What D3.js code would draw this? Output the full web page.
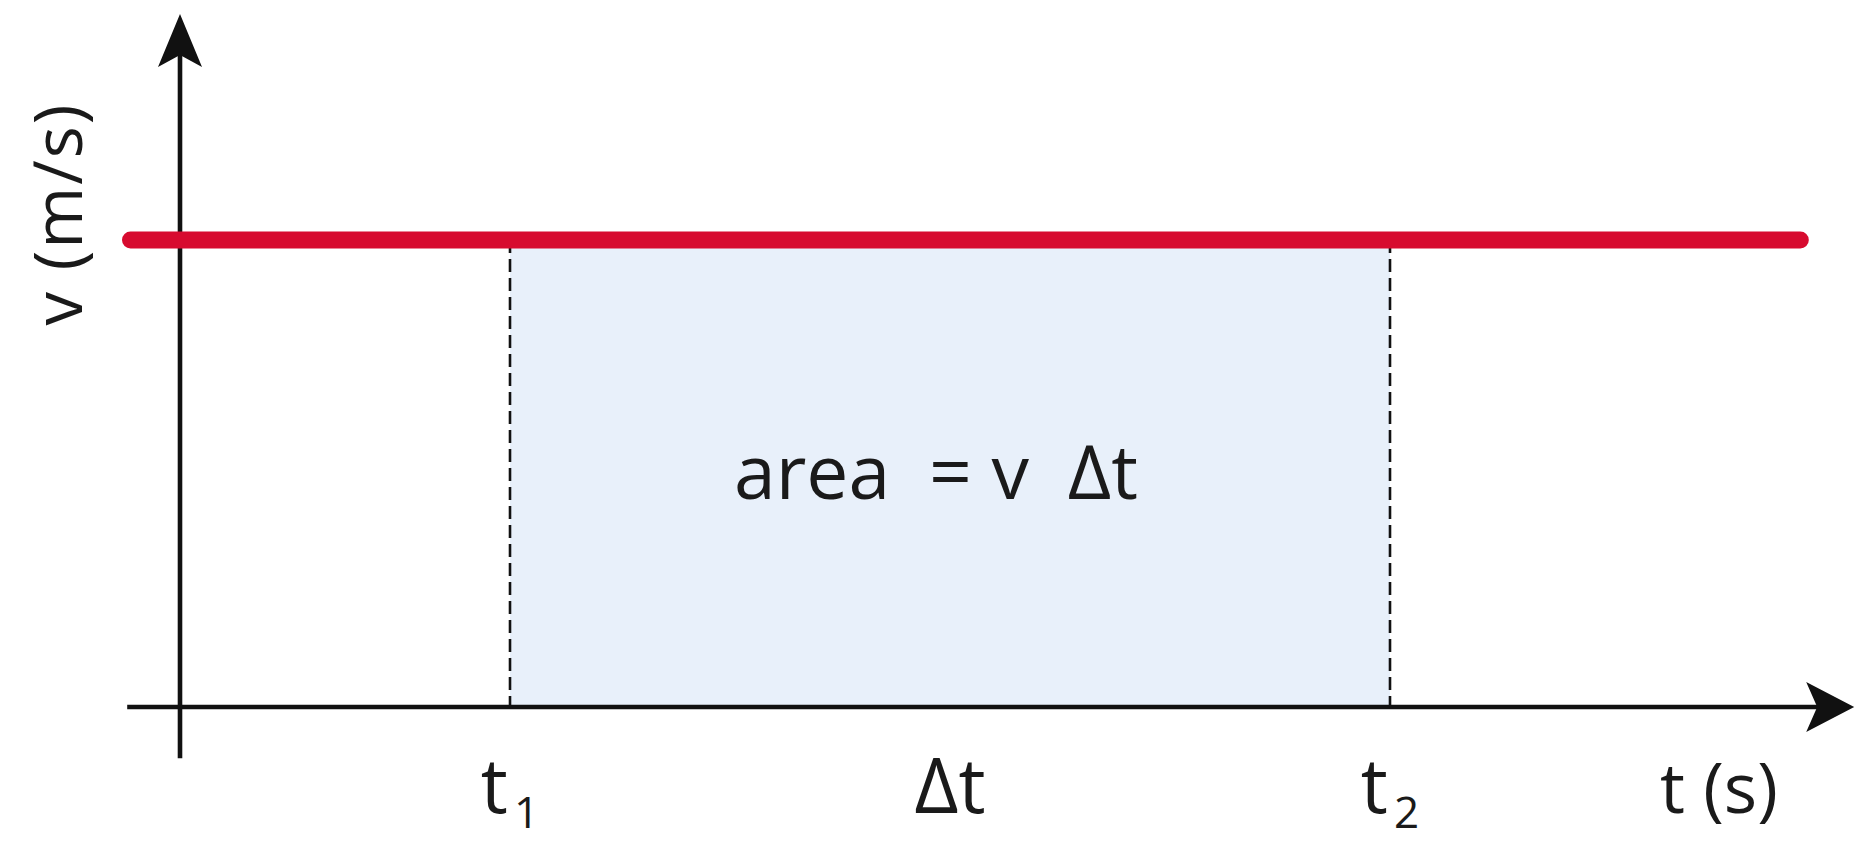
<!DOCTYPE html>
<html>
<head>
<meta charset="utf-8">
<script src="https://cdn.jsdelivr.net/npm/d3@7"></script>
<style>
  html, body { margin: 0; padding: 0; background: #fff; }
  svg { display: block; }
  text { font-family: "Open Sans", "Noto Sans", sans-serif; fill: #1a1a1a; }
</style>
</head>
<body>
<script>
// Constant velocity v over time; the shaded rectangle between t1 and t2 is the displacement.
const velocity = [5];                      // m/s (constant)
const intervalStart = [3];                 // t1
const intervalEnd = [11];                  // t2
const lineExtent = [-0.45, 14.73];         // time span of the velocity line
const timeAxisExtent = [-0.48, 15.22];     // drawn extent of the time axis
const velAxisExtent = [-0.55, 7.42];       // drawn extent of the velocity axis
const tickLabels = ["t", "Δt", "t"];       // labels under the time axis
const tickSubs = ["1", "", "2"];

const W = 1858, H = 841;
const svg = d3.select("body").append("svg").attr("width", W).attr("height", H);

const x = d3.scaleLinear().domain([0, 15]).range([180, 1830]);
const y = d3.scaleLinear().domain([0, 5]).range([707, 240]);

const t1 = intervalStart[0], t2 = intervalEnd[0], v = velocity[0];

// shaded area under the line
svg.append("rect")
  .attr("x", x(t1)).attr("y", y(v))
  .attr("width", x(t2) - x(t1)).attr("height", y(0) - y(v))
  .attr("fill", "#e8f0fa");

// dashed verticals at t1 and t2
svg.selectAll("line.drop").data([t1, t2]).enter().append("line")
  .attr("class", "drop")
  .attr("x1", d => x(d)).attr("x2", d => x(d))
  .attr("y1", y(v)).attr("y2", y(0))
  .attr("stroke", "#111").attr("stroke-width", 2.6)
  .attr("stroke-dasharray", "13,6");

// axes
const axisColor = "#111";
svg.append("line")
  .attr("x1", x(timeAxisExtent[0])).attr("x2", x(timeAxisExtent[1]) - 20)
  .attr("y1", y(0)).attr("y2", y(0))
  .attr("stroke", axisColor).attr("stroke-width", 4.6);
svg.append("line")
  .attr("x1", x(0)).attr("x2", x(0))
  .attr("y1", y(velAxisExtent[0])).attr("y2", y(velAxisExtent[1]) + 20)
  .attr("stroke", axisColor).attr("stroke-width", 4.6);

// arrowheads
const xt = x(timeAxisExtent[1]), yt = y(0);
svg.append("path")
  .attr("d", `M${xt},${yt} L${xt - 48},${yt - 25} L${xt - 37},${yt} L${xt - 48},${yt + 25} Z`)
  .attr("fill", axisColor);
const ax = x(0), ay = y(velAxisExtent[1]);
svg.append("path")
  .attr("d", `M${ax},${ay} L${ax - 22},${ay + 53} L${ax},${ay + 41} L${ax + 22},${ay + 53} Z`)
  .attr("fill", axisColor);

// velocity line
svg.append("line")
  .attr("x1", x(lineExtent[0])).attr("x2", x(lineExtent[1]))
  .attr("y1", y(v)).attr("y2", y(v))
  .attr("stroke", "#d70b2f").attr("stroke-width", 17)
  .attr("stroke-linecap", "round");

// area annotation
svg.append("text")
  .attr("x", (x(t1) + x(t2)) / 2 - 14).attr("y", 499)
  .attr("text-anchor", "middle")
  .attr("font-size", 75)
  .attr("xml:space", "preserve")
  .text("area  = v  Δt");

// labels under the time axis
const labelPos = [t1, (t1 + t2) / 2, t2];
const lab = svg.selectAll("text.tick").data(labelPos).enter().append("text")
  .attr("class", "tick")
  .attr("x", d => x(d)).attr("y", 813)
  .attr("text-anchor", "middle")
  .attr("font-size", 76);
lab.append("tspan").text((d, i) => tickLabels[i]);
lab.append("tspan")
  .attr("font-size", 44).attr("dx", 6).attr("dy", 15)
  .text((d, i) => tickSubs[i]);

// axis titles
svg.append("text")
  .attr("x", 1719).attr("y", 813)
  .attr("text-anchor", "middle")
  .attr("font-size", 70)
  .text("t (s)");

svg.append("text")
  .attr("transform", "translate(82,214) rotate(-90)")
  .attr("text-anchor", "middle")
  .attr("font-size", 67)
  .attr("letter-spacing", 2)
  .text("v (m/s)");
</script>
</body>
</html>
